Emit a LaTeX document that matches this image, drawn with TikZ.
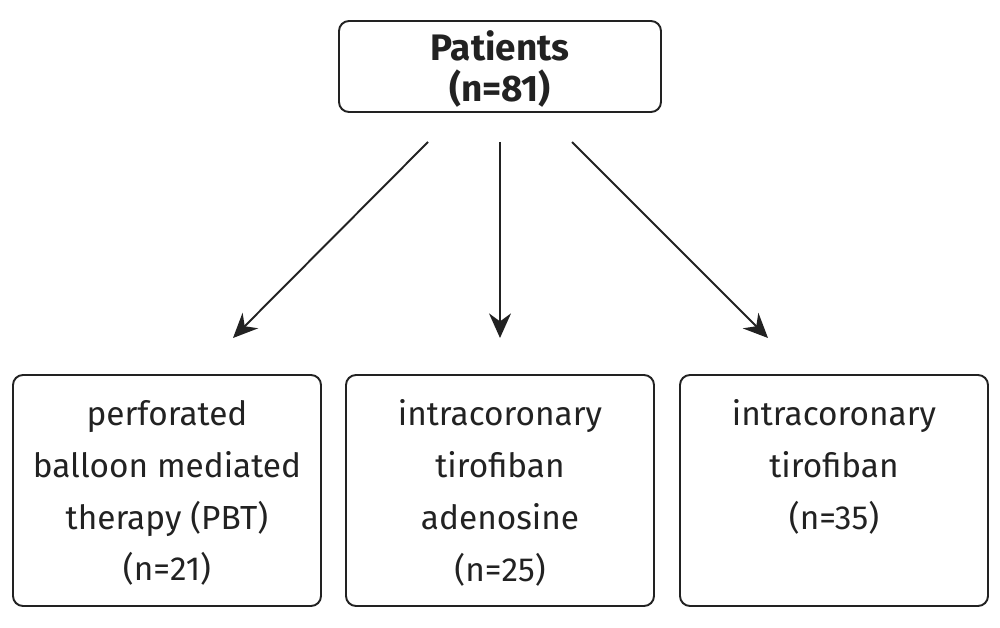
\documentclass[tikz,border=0pt]{standalone}
\usepackage{fontspec}
\setmainfont{Fira Sans}
\usetikzlibrary{arrows.meta}
\definecolor{ink}{HTML}{222222}
\tikzset{
  box/.style={draw=ink, line width=1.1pt, rounded corners=0.2cm, align=center, text=ink, inner sep=0pt},
  arr/.style={draw=ink, line width=1.1pt, -{Stealth[length=14pt,width=12.5pt]}},
  lbl/.style={font=\fontsize{19}{29.5}\selectfont}
}
\begin{document}
\begin{tikzpicture}[x=0.02cm,y=-0.02cm]
\useasboundingbox (0,0) rectangle (1000,628);
\node[box, minimum width=322*0.02cm, minimum height=91*0.02cm] (top) at (500,66.5) {};
\node[text=ink, align=center, font=\fontsize{21}{23}\selectfont\bfseries] (toplbl) at (500,69) {Patients\\(n=81)};
\node[box, minimum width=308*0.02cm, minimum height=231*0.02cm] (b1) at (167,490.5) {};
\node[box, minimum width=308*0.02cm, minimum height=231*0.02cm] (b2) at (500,490.5) {};
\node[box, minimum width=308*0.02cm, minimum height=231*0.02cm] (b3) at (834,490.5) {};
\node[lbl, text=ink, align=center] (t1) at (167,493) {perforated\\balloon mediated\\therapy (PBT)\\(n=21)};
\node[lbl, text=ink, align=center] (t2) at (500,493) {intracoronary\\tirofiban\\adenosine\\(n=25)};
\node[lbl, text=ink, align=center] (t3) at (834,467) {intracoronary\\tirofiban\\(n=35)};
\coordinate (s1) at (428,142);
\coordinate (e1) at (233,338);
\coordinate (s2) at (500,142);
\coordinate (e2) at (500,338);
\coordinate (s3) at (572,142);
\coordinate (e3) at (768,338);
\draw[arr] (s1) -- (e1);
\draw[arr] (s2) -- (e2);
\draw[arr] (s3) -- (e3);
\end{tikzpicture}
\end{document}
